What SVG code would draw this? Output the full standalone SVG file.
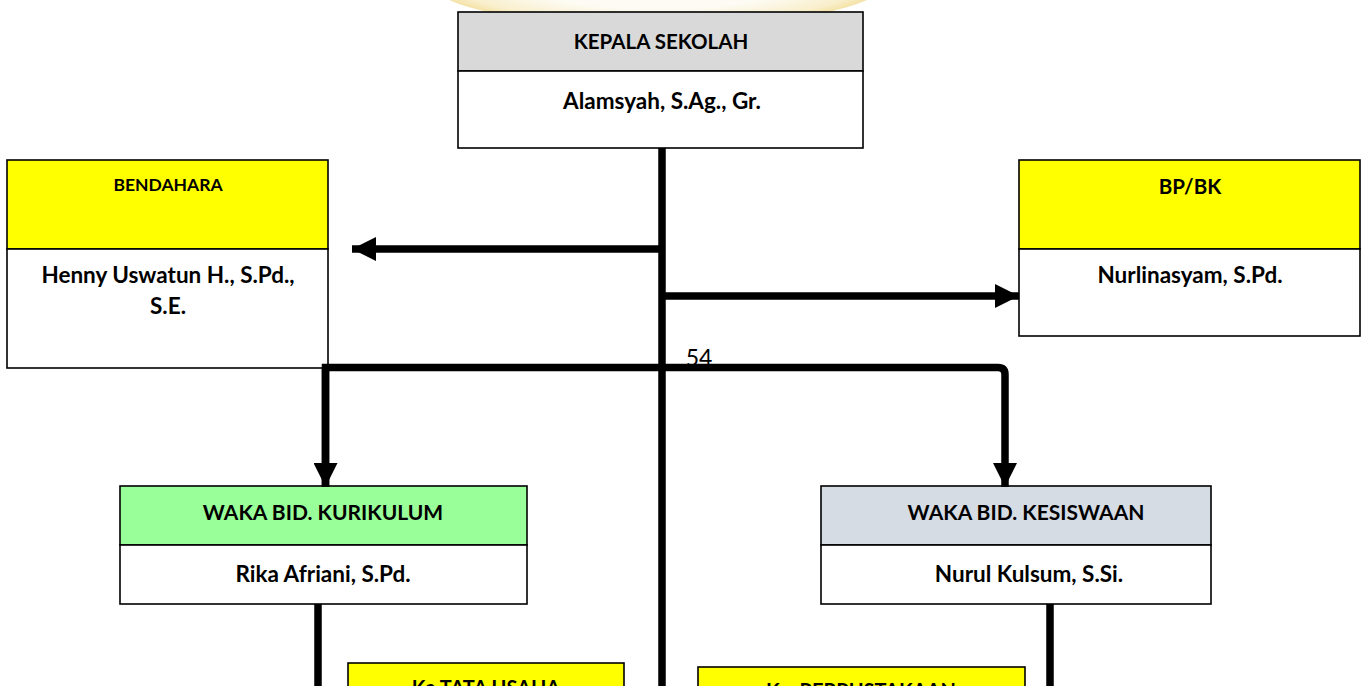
<svg xmlns="http://www.w3.org/2000/svg" width="1368" height="686" viewBox="0 0 1368 686">
<defs>
<radialGradient id="wm" cx="0.5" cy="0.5" r="0.5">
<stop offset="0.6" stop-color="#fdfbf3"/>
<stop offset="0.9" stop-color="#f9efcc"/>
<stop offset="1" stop-color="#f4e2a6"/>
</radialGradient>
<marker id="ah" viewBox="0 0 24 24" refX="24" refY="12" markerWidth="24" markerHeight="24" markerUnits="userSpaceOnUse" orient="auto">
<path d="M0,0 L24,12 L0,24 Z" fill="#000"/>
</marker>
<style>
.box{stroke:#000;stroke-width:1.6}
.t{font-family:Lato,"Liberation Sans",sans-serif;font-weight:bold;fill:#000;text-anchor:middle}
.hd{font-size:21px}
.nm{font-size:22.5px}
.ln{fill:none;stroke:#000;stroke-width:7.5}
</style>
</defs>
<rect width="1368" height="686" fill="#fff"/>
<ellipse cx="658" cy="-18" rx="228" ry="45" fill="url(#wm)"/>
<text x="699" y="366" font-family="Lato,'Liberation Sans',sans-serif" font-size="23" fill="#000" text-anchor="middle">54</text>

<g id="kepala">
<rect class="box" x="458" y="12" width="405" height="59" fill="#d9d9d9"/>
<rect class="box" x="458" y="71" width="405" height="77" fill="#fff"/>
<text class="t" style="font-size:20.5px" x="661" y="48.5">KEPALA SEKOLAH</text>
<text class="t nm" x="662" y="109">Alamsyah, S.Ag., Gr.</text>
</g>
<g id="bendahara">
<rect class="box" x="7" y="160" width="321" height="89" fill="#ffff00"/>
<rect class="box" x="7" y="249" width="321" height="119" fill="#fff"/>
<text class="t" style="font-size:17.5px" x="168" y="191">BENDAHARA</text>
<text class="t" style="font-size:22.5px" x="168" y="283">Henny Uswatun H., S.Pd.,</text>
<text class="t" style="font-size:22.5px" x="168" y="314">S.E.</text>
</g>
<g id="bpbk">
<rect class="box" x="1019" y="160" width="341" height="89" fill="#ffff00"/>
<rect class="box" x="1019" y="249" width="341" height="87" fill="#fff"/>
<text class="t" style="font-size:20.5px" x="1190" y="194">BP/BK</text>
<text class="t nm" x="1190" y="282.5">Nurlinasyam, S.Pd.</text>
</g>
<g id="kurikulum">
<rect class="box" x="120" y="486" width="407" height="59" fill="#99ff99"/>
<rect class="box" x="120" y="545" width="407" height="59" fill="#fff"/>
<text class="t hd" x="323" y="520">WAKA BID. KURIKULUM</text>
<text class="t nm" x="323" y="582">Rika Afriani, S.Pd.</text>
</g>
<g id="kesiswaan">
<rect class="box" x="821" y="486" width="390" height="59" fill="#d6dce4"/>
<rect class="box" x="821" y="545" width="390" height="59" fill="#fff"/>
<text class="t hd" x="1026" y="520">WAKA BID. KESISWAAN</text>
<text class="t nm" x="1029" y="582">Nurul Kulsum, S.Si.</text>
</g>
<g id="tatausaha">
<rect class="box" x="348" y="663" width="276" height="40" fill="#ffff00"/>
<text class="t" style="font-size:20px" x="486" y="695">Ka TATA USAHA</text>
</g>
<g id="perpustakaan">
<rect class="box" x="698" y="667" width="327" height="40" fill="#ffff00"/>
<text class="t" style="font-size:20px" x="861" y="698">Ka. PERPUSTAKAAN</text>
</g>

<g id="connectors">
<line class="ln" x1="662" y1="148" x2="662" y2="690"/>
<line class="ln" x1="662" y1="249" x2="352" y2="249" marker-end="url(#ah)"/>
<line class="ln" x1="662" y1="296" x2="1019" y2="296" marker-end="url(#ah)"/>
<path class="ln" d="M325.5,487 V367.5 H998 Q1005,367.5 1005,374.5 V487" marker-end="url(#ah)"/>
<path class="ln" d="M325.5,367.5 V487" marker-end="url(#ah)"/>
<line class="ln" x1="318" y1="604" x2="318" y2="690"/>
<line class="ln" x1="1050" y1="604" x2="1050" y2="690"/>
</g>
</svg>
